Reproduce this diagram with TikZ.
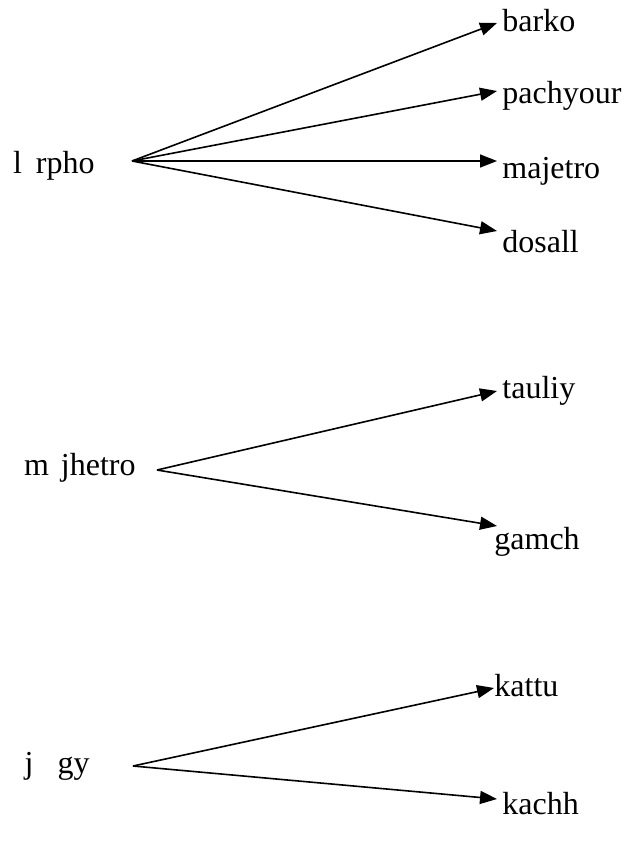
\documentclass[tikz,border=0pt]{standalone}
\usepackage{fontspec}
\setmainfont{Liberation Serif}
\usetikzlibrary{arrows.meta}
\begin{document}
\begin{tikzpicture}[x=0.5pt,y=-0.5pt,
  lbl/.style={inner sep=0pt, font=\fontsize{16}{19}\selectfont},
  arr/.style={line width=0.8pt, -{Triangle[length=8.5pt,width=6.5pt]}}]
\useasboundingbox (0,0) rectangle (624,846);
% group 1
\node[lbl,anchor=base east] (s1) at (95,173) {l\hspace{7pt}rpho};
\coordinate (a1) at (132,161);
\node[lbl,anchor=base west] (barko) at (502,32) {barko};
\node[lbl,anchor=base west] (pachyour) at (502,103) {pachyour};
\node[lbl,anchor=base west] (majetro) at (502,178) {majetro};
\node[lbl,anchor=base west] (dosall) at (502,252) {dosall};
\coordinate (tbarko) at (497,23);
\coordinate (tpachyour) at (497,91);
\coordinate (tmajetro) at (497,161);
\coordinate (tdosall) at (497,231);
\draw[arr] (a1) -- (tbarko);
\draw[arr] (a1) -- (tpachyour);
\draw[arr] (a1) -- (tmajetro);
\draw[arr] (a1) -- (tdosall);
% group 2
\node[lbl,anchor=base east] (s2) at (136,475) {m\hspace{6pt}jhetro};
\coordinate (a2) at (157,470);
\node[lbl,anchor=base west] (tauliy) at (502,398) {tauliy};
\node[lbl,anchor=base west] (gamch) at (494,549) {gamch};
\coordinate (ttauliy) at (497,391);
\coordinate (tgamch) at (497,526);
\draw[arr] (a2) -- (ttauliy);
\draw[arr] (a2) -- (tgamch);
% group 3
\node[lbl,anchor=base east] (s3) at (90,773) {j\hspace{12pt}gy};
\coordinate (a3) at (133,766);
\node[lbl,anchor=base west] (kattu) at (494,696) {kattu};
\node[lbl,anchor=base west] (kachh) at (502,814) {kachh};
\coordinate (tkattu) at (494,688);
\coordinate (tkachh) at (497,799);
\draw[arr] (a3) -- (tkattu);
\draw[arr] (a3) -- (tkachh);
\end{tikzpicture}
\end{document}
